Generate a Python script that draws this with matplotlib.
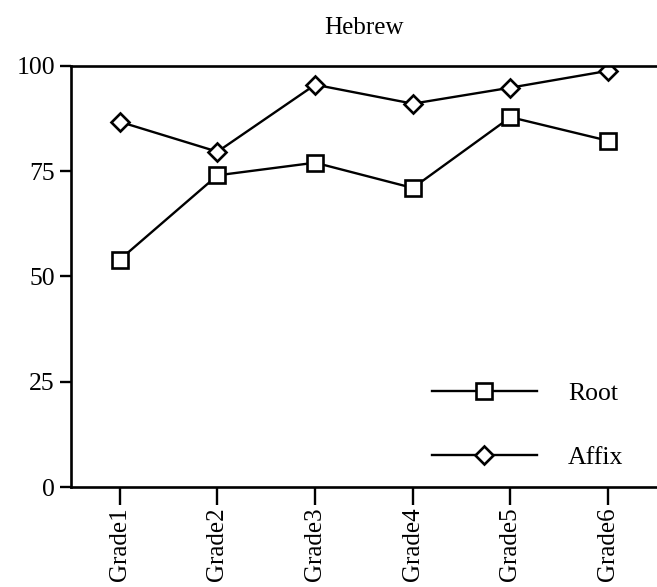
import matplotlib.pyplot as plt

grades = ['Grade1', 'Grade2', 'Grade3', 'Grade4', 'Grade5', 'Grade6']
root = [54, 74, 77, 71, 87.8, 82.2]
affix = [86.7, 79.6, 95.5, 91, 94.8, 98.8]
yticks = [0, 25, 50, 75, 100]

plt.rcParams['font.family'] = ['Liberation Serif', 'DejaVu Serif']

fig = plt.figure(figsize=(6.57, 5.87), dpi=100)
ax = fig.add_axes([0.108, 0.170, 0.892, 0.718])

x = range(len(grades))
ax.plot(x, root, color='black', lw=1.7, marker='s', markersize=12,
        markerfacecolor='white', markeredgewidth=1.9, label='Root')
ax.plot(x, affix, color='black', lw=1.7, marker='D', markersize=8.8,
        markerfacecolor='white', markeredgewidth=1.9, label='Affix')

ax.set_xlim(-0.5, 5.5)
ax.set_ylim(0, 100)
ax.set_yticks(yticks)
ax.set_xticks(list(x))
ax.set_xticklabels(grades, rotation=90)
ax.tick_params(axis='both', labelsize=18.5, width=1.7, length=8, direction='out')
ax.tick_params(axis='x', labelsize=18, length=13, pad=1.5)

ax.spines['right'].set_visible(False)
for s in ['left', 'top', 'bottom']:
    ax.spines[s].set_linewidth(1.9)

ax.set_title('Hebrew', fontsize=18, pad=23)

ax.legend(loc='lower left', bbox_to_anchor=(0.576, -0.012), frameon=False,
          fontsize=18.5, handlelength=4.1, handletextpad=1.2, labelspacing=1.62)

fig.savefig('out.png', dpi=100)
